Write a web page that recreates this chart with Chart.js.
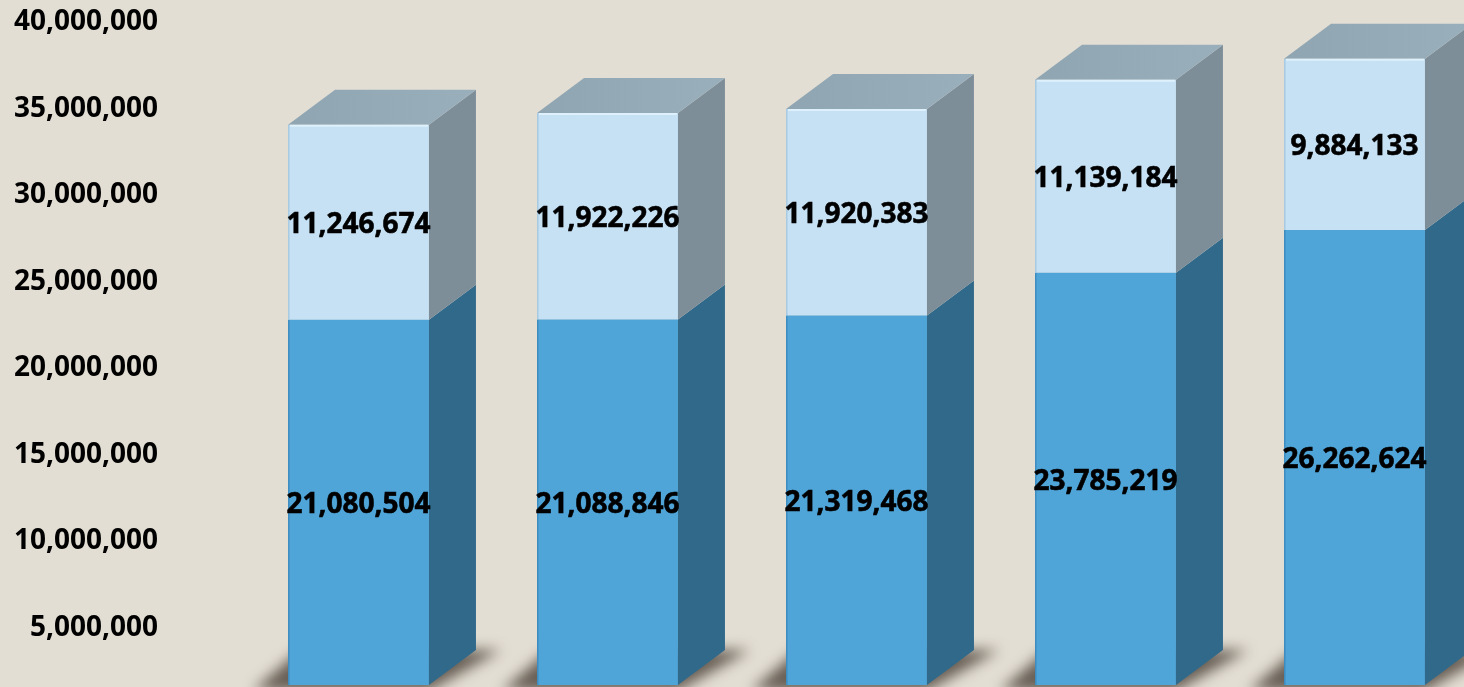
<!DOCTYPE html>
<html>
<head>
<meta charset="utf-8">
<script src="https://cdn.jsdelivr.net/npm/chart.js@4.4.0/dist/chart.umd.min.js"></script>
<style>
  html, body { margin: 0; padding: 0; background: #E3DED3; overflow: hidden; }
  #wrap { width: 1464px; height: 687px; overflow: hidden; position: relative; }
  canvas { position: absolute; left: 0; top: 0; }
</style>
</head>
<body>
<div id="wrap"><canvas id="grafico" width="1480" height="687"></canvas></div>
<script>
var categorias = ['1', '2', '3', '4', '5'];
var inferior   = [21080504, 21088846, 21319468, 23785219, 26262624];
var superior   = [11246674, 11922226, 11920383, 11139184, 9884133];
var ticksY     = [5000000, 10000000, 15000000, 20000000, 25000000, 30000000, 35000000, 40000000];

var fuente = { family: "'Open Sans', sans-serif", weight: 'bold', size: 28 };
var dx = 47, dy = -35;   // profundidad del efecto 3D

function fmt(v) { return v.toLocaleString('en-US'); }

var barras3d = {
  id: 'barras3d',
  beforeDatasetsDraw: function(chart) {
    // sombra en el piso
    var ctx = chart.ctx;
    ctx.save();
    ctx.filter = 'blur(7px)';
    ctx.fillStyle = 'rgba(60,50,40,0.75)';
    chart.getDatasetMeta(0).data.forEach(function(bar) {
      var p = bar.getProps(['x', 'base', 'width'], true);
      var l = p.x - p.width / 2, r = p.x + p.width / 2, b = p.base;
      ctx.beginPath();
      ctx.moveTo(l - 35, b + 6);
      ctx.lineTo(r, b + 6);
      ctx.lineTo(r + dx + 25, b + dy);
      ctx.lineTo(l + dx - 35, b + dy);
      ctx.closePath();
      ctx.fill();
    });
    ctx.restore();
  },
  afterDatasetsDraw: function(chart) {
    var ctx = chart.ctx;
    var n = chart.data.datasets.length;
    ctx.save();
    chart.data.datasets.forEach(function(ds, i) {
      chart.getDatasetMeta(i).data.forEach(function(bar) {
        var p = bar.getProps(['x', 'y', 'base', 'width'], true);
        var l = p.x - p.width / 2, r = p.x + p.width / 2;
        // cara lateral
        ctx.fillStyle = ds.colorLado;
        ctx.beginPath();
        ctx.moveTo(r, p.y);
        ctx.lineTo(r + dx, p.y + dy);
        ctx.lineTo(r + dx, p.base + dy);
        ctx.lineTo(r, p.base);
        ctx.closePath();
        ctx.fill();
        // borde izquierdo
        ctx.strokeStyle = ds.colorBorde;
        ctx.lineWidth = 1.5;
        ctx.beginPath();
        ctx.moveTo(l + 0.75, p.y);
        ctx.lineTo(l + 0.75, p.base);
        ctx.stroke();
        if (i === n - 1) {
          // cara superior
          var g = ctx.createLinearGradient(l, 0, r + dx, 0);
          g.addColorStop(0, '#8FA5B2');
          g.addColorStop(1, '#9AAFBC');
          ctx.fillStyle = g;
          ctx.beginPath();
          ctx.moveTo(l, p.y);
          ctx.lineTo(l + dx, p.y + dy);
          ctx.lineTo(r + dx, p.y + dy);
          ctx.lineTo(r, p.y);
          ctx.closePath();
          ctx.fill();
          ctx.strokeStyle = '#DDF0FB';
          ctx.lineWidth = 2;
          ctx.beginPath();
          ctx.moveTo(l + 2, p.y + 1);
          ctx.lineTo(r - 1, p.y + 1);
          ctx.stroke();
        }
      });
    });
    ctx.restore();
  },
  afterDraw: function(chart) {
    var ctx = chart.ctx;
    ctx.save();
    ctx.font = fuente.weight + ' ' + fuente.size + 'px ' + fuente.family;
    ctx.fillStyle = '#000';
    ctx.strokeStyle = '#000';
    ctx.lineWidth = 0.6;
    ctx.textAlign = 'center';
    ctx.textBaseline = 'middle';
    chart.data.datasets.forEach(function(ds, i) {
      chart.getDatasetMeta(i).data.forEach(function(bar, j) {
        var p = bar.getProps(['x', 'y', 'base'], true);
        var ty = (p.y + p.base) / 2 + 3;
        ctx.fillText(fmt(ds.data[j]), p.x, ty);
        ctx.strokeText(fmt(ds.data[j]), p.x, ty);
      });
    });
    ctx.restore();
  }
};

new Chart(document.getElementById('grafico').getContext('2d'), {
  type: 'bar',
  data: {
    labels: categorias,
    datasets: [
      { data: inferior, backgroundColor: '#4FA4D8', colorLado: '#31698A', colorBorde: '#3E8DC0' },
      { data: superior, backgroundColor: '#C6E1F4', colorLado: '#7E8E99', colorBorde: '#A9CBE2' }
    ]
  },
  options: {
    responsive: false,
    animation: false,
    devicePixelRatio: 1,
    layout: { padding: { top: 0, bottom: 2, left: 0, right: 1 } },
    datasets: { bar: { categoryPercentage: 1, barPercentage: 0.566, borderWidth: 0 } },
    plugins: { legend: { display: false }, tooltip: { enabled: false } },
    scales: {
      x: { display: false, stacked: true },
      y: { display: false, stacked: true, min: 0, max: 39530000 },
      y2: {
        position: 'left',
        min: 1700000,
        max: 41300000,
        grid: { display: false, drawTicks: false },
        border: { display: false },
        afterBuildTicks: function(s) { s.ticks = ticksY.map(function(v) { return { value: v }; }); },
        afterFit: function(s) { s.width = 234; s.paddingTop = 0; s.paddingBottom = 0; },
        ticks: { padding: 76, autoSkip: false, color: '#000', font: fuente, callback: function(v) { return fmt(v); } }
      }
    }
  },
  plugins: [barras3d]
});
</script>
</body>
</html>
